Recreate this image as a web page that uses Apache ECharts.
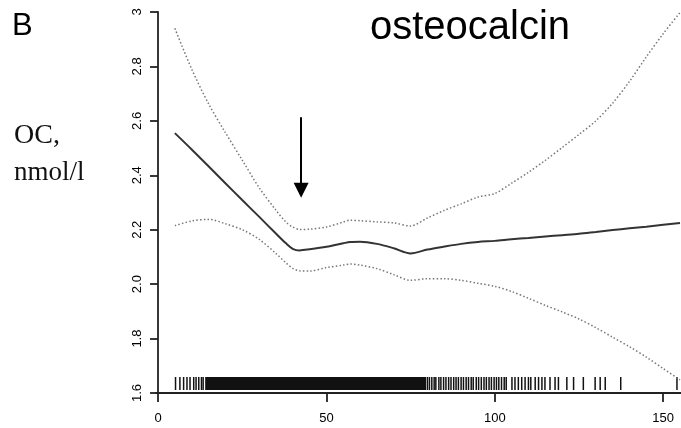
<!DOCTYPE html>
<html>
<head>
<meta charset="utf-8">
<script src="https://cdn.jsdelivr.net/npm/echarts@6/dist/echarts.min.js"></script>
<style>
  html, body { margin: 0; padding: 0; background: #fff; }
  #chart { width: 681px; height: 428px; }
</style>
</head>
<body>
<div id="chart"></div>
<script>
var xs = [5, 10, 15, 20, 25, 30, 35, 38, 40, 42, 45, 50, 55, 57, 60, 65, 70, 75, 80, 85,
    90, 95, 100, 105, 110, 115, 120, 125, 130, 135, 140, 145, 150, 155];
// fitted curve (solid)
var fitVals = [2.555, 2.495, 2.433, 2.371, 2.309, 2.248, 2.186, 2.150, 2.130, 2.124, 2.128, 2.137,
    2.150, 2.155, 2.156, 2.148, 2.132, 2.113, 2.127, 2.138, 2.148, 2.155, 2.159, 2.165, 2.170,
    2.175, 2.180, 2.185, 2.192, 2.199, 2.205, 2.211, 2.218, 2.225];
// upper / lower confidence band (dotted)
var upperVals = [2.940, 2.790, 2.663, 2.557, 2.456, 2.355, 2.272, 2.228, 2.210, 2.201, 2.202, 2.210,
    2.228, 2.235, 2.233, 2.229, 2.225, 2.214, 2.243, 2.271, 2.295, 2.320, 2.333, 2.371, 2.411,
    2.455, 2.502, 2.550, 2.600, 2.665, 2.745, 2.835, 2.920, 2.998];
var lowerVals = [2.215, 2.232, 2.238, 2.222, 2.200, 2.165, 2.113, 2.078, 2.058, 2.049, 2.048, 2.061,
    2.070, 2.074, 2.070, 2.057, 2.035, 2.014, 2.020, 2.020, 2.014, 2.003, 1.992, 1.973, 1.948,
    1.922, 1.898, 1.872, 1.840, 1.805, 1.770, 1.732, 1.690, 1.648];

// rug: single observations and the solid black stretch
var rugTicks = [5.2, 6.5, 7.6, 8.6, 9.5, 10.6, 11.3, 12.1, 12.9, 13.4,
    80, 80.6, 81.3, 82, 82.5, 83.4, 84, 84.8, 85.5, 86.3, 87, 87.8, 88.5, 89.2, 90, 90.7,
    91.5, 92.2, 93, 93.6, 94.5, 95.2, 96, 96.8, 97.5, 98.3, 99, 99.8, 100.5, 101.2, 102,
    102.8, 103.4, 105.1, 106, 107, 108, 109, 110, 110.7, 112, 113, 114, 114.9, 116.4,
    117.9, 118.9, 121.4, 123.4, 126.3, 129.8, 131.3, 132.8, 137.4, 154.1];
var rugBands = [[14, 79.6]];

var xTicks = [0, 50, 100, 150];
var arrowFrom = [42.5, 2.613];
var arrowTo = [42.5, 2.345];

var chart = echarts.init(document.getElementById('chart'));

function pairs(vals) {
    var out = [];
    for (var i = 0; i < xs.length; i++) {
        out.push([xs[i], vals[i]]);
    }
    return out;
}

function renderTick(params, api) {
    var p = api.coord([api.value(0), 1.6]);
    return {
        type: 'line',
        shape: { x1: p[0], y1: p[1] - 16, x2: p[0], y2: p[1] - 3 },
        style: { stroke: '#111', lineWidth: 1.5 }
    };
}

function renderBand(params, api) {
    var a = api.coord([api.value(0), 1.6]);
    var b = api.coord([api.value(1), 1.6]);
    return {
        type: 'rect',
        shape: { x: a[0], y: a[1] - 16, width: b[0] - a[0], height: 13 },
        style: { fill: '#111' }
    };
}

var dotted = { color: '#777', width: 1.5, type: [1.5, 2.2] };

var option = {
    animation: false,
    backgroundColor: '#fff',
    grid: { left: 156, right: 0, top: 12, bottom: 35 },
    xAxis: {
        type: 'value',
        min: -0.6,
        max: 155.3,
        splitLine: { show: false },
        axisLine: { show: true, lineStyle: { color: '#222', width: 1.8 } },
        axisTick: { show: true, customValues: xTicks, length: 9, lineStyle: { color: '#222', width: 1.8 } },
        axisLabel: {
            customValues: xTicks,
            margin: 19,
            color: '#000',
            fontFamily: 'Liberation Sans',
            fontSize: 13
        }
    },
    yAxis: {
        type: 'value',
        min: 1.6,
        max: 3.0,
        interval: 0.2,
        splitLine: { show: false },
        axisLine: { show: true, lineStyle: { color: '#222', width: 1.8 } },
        axisTick: { show: true, length: 8, lineStyle: { color: '#222', width: 1.8 } },
        axisLabel: {
            rotate: 90,
            margin: 12,
            color: '#000',
            fontFamily: 'Liberation Sans',
            fontSize: 13,
            formatter: function (v) {
                return Math.abs(v - 3) < 1e-9 ? '3' : v.toFixed(1);
            }
        }
    },
    series: [
        {
            type: 'line',
            data: pairs(upperVals),
            showSymbol: false,
            smooth: 0.3,
            lineStyle: dotted
        },
        {
            type: 'line',
            data: pairs(lowerVals),
            showSymbol: false,
            smooth: 0.3,
            lineStyle: dotted
        },
        {
            type: 'line',
            data: pairs(fitVals),
            showSymbol: false,
            smooth: 0.3,
            lineStyle: { color: '#333', width: 2 },
            markLine: {
                silent: true,
                symbol: ['none', 'triangle'],
                symbolSize: 15,
                label: { show: false },
                lineStyle: { color: '#000', width: 2, type: 'solid' },
                data: [[{ coord: arrowFrom }, { coord: arrowTo }]]
            }
        },
        {
            type: 'custom',
            data: rugTicks.map(function (v) { return [v]; }),
            encode: { x: 0 },
            renderItem: renderTick,
            silent: true
        },
        {
            type: 'custom',
            data: rugBands,
            encode: { x: [0, 1] },
            renderItem: renderBand,
            silent: true
        }
    ],
    graphic: [
        { type: 'text', left: 12, top: 11, style: { text: 'B', font: '31px "Liberation Sans"', fill: '#000' } },
        { type: 'text', left: 370, top: 8, style: { text: 'osteocalcin', font: '40px "Liberation Sans"', fill: '#000' } },
        { type: 'text', left: 14, top: 122, style: { text: 'OC,', font: '28px "Liberation Serif"', fill: '#111' } },
        { type: 'text', left: 14, top: 159, style: { text: 'nmol/l', font: '27px "Liberation Serif"', fill: '#111' } }
    ]
};

chart.setOption(option);
</script>
</body>
</html>
